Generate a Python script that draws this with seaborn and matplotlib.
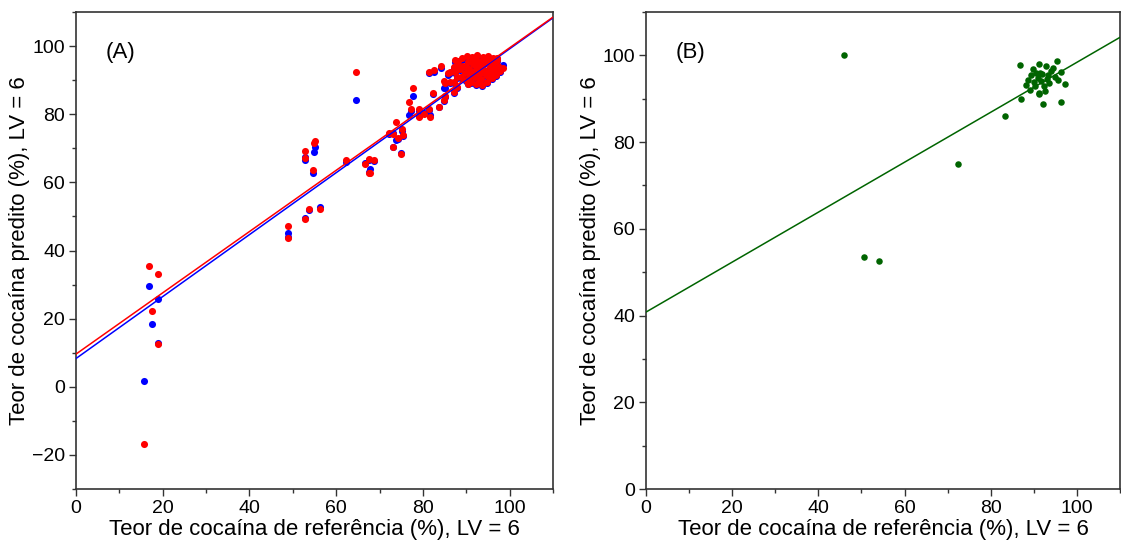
import matplotlib
matplotlib.use("Agg")
import matplotlib.pyplot as plt
import seaborn as sns
from matplotlib.ticker import MultipleLocator

# ---------------- data: panel A (calibration, two models) ----------------
ref_A = [15.6, 16.8, 17.5, 18.8, 19.0,
         48.8, 48.8, 52.7, 52.8, 52.7, 53.8, 55.0, 54.8, 54.6, 56.2,
         62.3, 64.5, 66.7, 67.5, 67.8, 67.5, 68.8,
         72.1, 73.0, 73.8, 74.2, 73.2, 74.9, 75.2, 75.5,
         76.9, 77.6, 77.3, 79.0, 79.2, 80.2, 81.3, 81.7,
         82.3, 81.3, 82.5, 84.2, 83.8, 84.8, 85.2, 84.9, 85.2,
         88.2, 88.5, 88.8, 89.0, 89.3, 89.6, 89.9, 90.1, 90.3, 90.6,
         90.8, 91.1, 91.3, 91.5, 91.8, 92.0, 92.2, 92.4, 92.6, 92.9,
         93.1, 93.3, 93.6, 93.8, 94.0, 94.2, 94.5, 94.7, 95.0, 95.2,
         95.4, 95.7, 95.9, 96.2, 96.4, 96.7, 96.9, 97.2, 97.4, 97.7,
         90.0, 91.0, 92.5, 93.5, 94.5, 95.5, 96.0, 93.0, 91.7, 90.4,
         94.8, 92.7, 97.0, 88.0, 87.5, 98.4, 87.5, 85.9, 86.3, 87.1,
         87.8, 86.3, 87.1, 87.9, 87.1]
blue_A = [1.7, 29.6, 18.3, 25.7, 12.9,
          45.0, 43.9, 66.5, 67.3, 49.4, 51.8, 70.3, 68.8, 62.7, 52.9,
          66.0, 84.1, 65.8, 66.5, 63.9, 63.0, 66.2,
          74.1, 74.5, 72.4, 72.8, 70.5, 68.5, 75.2, 73.6,
          79.9, 85.3, 80.8, 79.5, 81.0, 80.5, 81.2, 79.8,
          86.0, 92.0, 92.5, 93.5, 82.0, 84.0, 85.0, 87.6, 87.6,
          95.1, 92.9, 90.6, 96.0, 93.8, 91.7, 89.7, 96.6, 94.9, 93.0,
          91.0, 89.1, 96.5, 94.2, 92.4, 90.5, 88.6, 97.0, 95.1, 93.5,
          91.7, 89.8, 88.4, 96.4, 94.6, 92.8, 91.1, 89.3, 96.8, 95.3,
          93.6, 91.9, 90.3, 96.1, 94.4, 92.7, 91.2, 95.5, 93.8, 92.5,
          93.7, 91.6, 93.7, 94.6, 95.7, 90.7, 94.7, 89.2, 95.4, 88.8,
          92.2, 91.2, 96.2, 94.1, 92.2, 94.4, 95.4, 91.6, 89.2, 86.3,
          87.8, 92.2, 93.7, 90.7, 89.3]
red_A = [-16.9, 35.5, 22.1, 33.2, 12.7,
         47.2, 43.8, 67.1, 69.2, 49.3, 52.3, 72.1, 71.6, 63.6, 52.1,
         66.5, 92.3, 65.3, 67.0, 62.8, 62.7, 66.7,
         74.4, 74.3, 77.8, 73.1, 70.5, 68.2, 75.8, 74.0,
         83.5, 87.6, 81.5, 79.3, 81.5, 80.2, 81.5, 79.3,
         86.3, 92.3, 93.0, 94.1, 82.2, 84.3, 85.4, 89.7, 89.1,
         95.5, 93.2, 91.0, 96.4, 94.1, 92.0, 90.1, 97.0, 95.2, 93.4,
         91.3, 89.4, 96.8, 94.6, 92.7, 90.8, 88.9, 97.3, 95.5, 93.8,
         92.0, 90.2, 88.7, 96.7, 94.9, 93.1, 91.4, 89.6, 97.1, 95.6,
         93.9, 92.2, 90.6, 96.4, 94.7, 93.0, 91.5, 95.8, 94.1, 92.8,
         94.0, 92.0, 94.0, 95.0, 96.0, 91.0, 95.0, 89.5, 95.8, 89.0,
         92.5, 91.5, 96.5, 94.5, 92.5, 93.6, 95.9, 92.0, 89.5, 86.6,
         88.1, 92.5, 94.0, 91.0, 89.6]
# fitted lines (intercept, slope)
line_blue_A = (8.3, 0.909)
line_red_A = (9.6, 0.899)

# ---------------- data: panel B (validation) ----------------
ref_B = [46.0, 50.6, 54.1, 72.5, 83.4, 86.8, 87.1, 91.1, 95.4, 96.2, 97.2,
         96.3, 92.2, 88.6, 89.4, 90.5, 92.8, 94.4, 92.5, 91.3, 89.0, 95.5,
         93.6, 91.7, 93.2, 94.8, 90.2, 91.0, 92.0, 93.0, 90.0, 89.8, 92.4,
         94.0, 88.2, 91.5, 91.2]
pred_B = [100.0, 53.5, 52.5, 74.9, 86.0, 97.7, 90.0, 98.0, 98.8, 96.1, 93.5,
          89.3, 88.8, 94.4, 95.5, 95.9, 97.5, 97.1, 91.7, 91.3, 92.1, 94.4,
          93.6, 94.0, 95.5, 95.1, 92.9, 94.8, 95.8, 94.6, 93.8, 96.8, 93.0,
          96.3, 93.2, 96.0, 91.2]
line_B = (40.8, 0.576)

panel_labels = ["(A)", "(B)"]
xlabel = "Teor de cocaína de referência (%), LV = 6"
ylabel = "Teor de cocaína predito (%), LV = 6"

# ---------------- style ----------------
sns.set_theme(style="ticks")
plt.rcParams['font.family'] = ['Liberation Sans', 'DejaVu Sans']
plt.rcParams['axes.unicode_minus'] = True
plt.rcParams['text.color'] = 'black'
plt.rcParams['axes.labelcolor'] = 'black'
plt.rcParams['xtick.color'] = 'black'
plt.rcParams['ytick.color'] = 'black'

TICK_FS = 14
LAB_FS = 16
fig = plt.figure(figsize=(11.21, 5.42), dpi=100)
axA = fig.add_axes([76/1121, 53/542, 477/1121, 477/542])
axB = fig.add_axes([646/1121, 53/542, 474/1121, 477/542])

# Panel A
sns.scatterplot(x=ref_A, y=blue_A, ax=axA, color="#0000FF", s=26,
                linewidth=0, zorder=2)
sns.scatterplot(x=ref_A, y=red_A, ax=axA, color="#FF0000", s=26,
                linewidth=0, zorder=3)
axA.axline((0, line_blue_A[0]), slope=line_blue_A[1], color="#0000FF",
           lw=1.1, zorder=4)
axA.axline((0, line_red_A[0]), slope=line_red_A[1], color="#FF0000",
           lw=1.1, zorder=5)
axA.set_xlim(0, 110)
axA.set_ylim(-30, 110)

# Panel B
sns.scatterplot(x=ref_B, y=pred_B, ax=axB, color="#006400", s=22,
                linewidth=0, zorder=3)
axB.axline((0, line_B[0]), slope=line_B[1], color="#006400", lw=1.1,
           zorder=4)
axB.set_xlim(0, 110)
axB.set_ylim(0, 110)

for ax, lab in zip([axA, axB], panel_labels):
    ax.xaxis.set_major_locator(MultipleLocator(20))
    ax.xaxis.set_minor_locator(MultipleLocator(10))
    ax.yaxis.set_major_locator(MultipleLocator(20))
    ax.yaxis.set_minor_locator(MultipleLocator(10))
    ax.tick_params(axis="both", which="major", direction="out", length=5,
                   width=1.0, color="#333333", labelcolor="black",
                   labelsize=TICK_FS, pad=3, top=False, right=False)
    ax.tick_params(axis="both", which="minor", direction="out", length=3,
                   width=1.0, color="#333333", top=False, right=False)
    for sp in ax.spines.values():
        sp.set_visible(True)
        sp.set_color("#333333")
        sp.set_linewidth(1.2)
    ax.set_xlabel(xlabel, fontsize=LAB_FS, labelpad=1, color="black")
    ax.set_ylabel(ylabel, fontsize=LAB_FS, labelpad=1, color="black")
    ax.text(0.062, 0.915, lab, transform=ax.transAxes, fontsize=LAB_FS,
            ha="left", va="center", color="black")

fig.savefig("out.png", dpi=100)
